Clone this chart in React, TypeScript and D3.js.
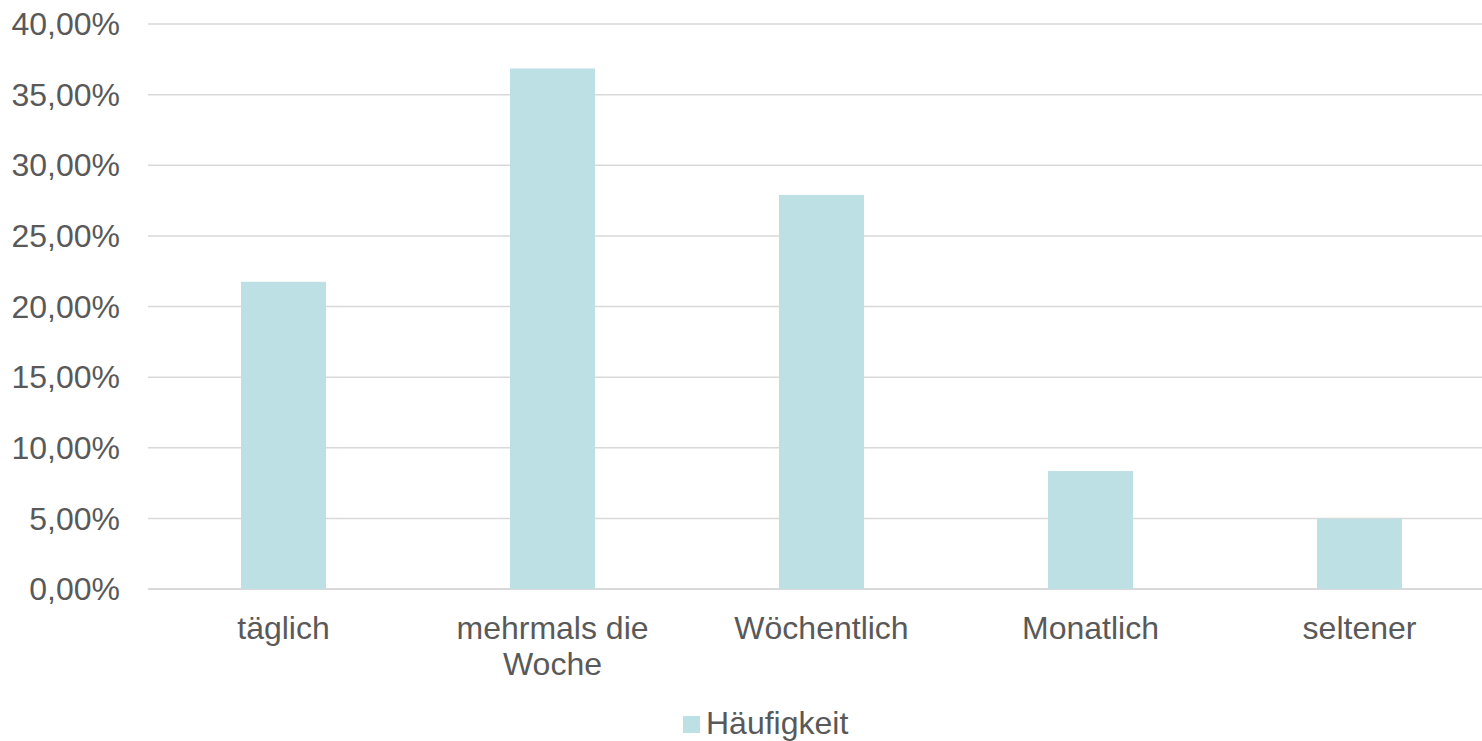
import React from "react";
import * as d3 from "d3";

const categories = ["täglich", "mehrmals die Woche", "Wöchentlich", "Monatlich", "seltener"];
const categoryLines = [["täglich"], ["mehrmals die", "Woche"], ["Wöchentlich"], ["Monatlich"], ["seltener"]];
const values = [21.75, 36.85, 27.9, 8.35, 4.97];
const yTicks = [0, 5, 10, 15, 20, 25, 30, 35, 40];
const seriesName = "Häufigkeit";

const W = 1482;
const H = 741;

export default function App() {
  const x = d3
    .scaleBand<string>()
    .domain(categories)
    .range([149, 1494])
    .paddingInner(0.684)
    .paddingOuter(0.342);
  const y = d3.scaleLinear().domain([0, 40]).range([589, 24]);
  const fmt = (v: number) => v.toFixed(2).replace(".", ",") + "%";
  const font = "'Liberation Sans', Arial, sans-serif";
  const textColor = "#595959";
  const fs = 32;

  return (
    <svg
      width={W}
      height={H}
      style={{ position: "absolute", left: 0, top: 0, background: "#fff" }}
      fontFamily={font}
    >
      {yTicks.map((t) => (
        <g key={t}>
          <line
            x1={148}
            x2={W}
            y1={y(t)}
            y2={y(t)}
            stroke="#D9D9D9"
            strokeWidth={t === 0 ? 2 : 1.5}
          />
          <text
            x={120}
            y={y(t)}
            dy="0.35em"
            textAnchor="end"
            fontSize={fs}
            fill={textColor}
          >
            {fmt(t)}
          </text>
        </g>
      ))}
      {categories.map((c, i) => (
        <rect
          key={c}
          x={x(c)}
          y={y(values[i])}
          width={x.bandwidth()}
          height={y(0) - y(values[i])}
          fill="#BCE0E3"
        />
      ))}
      {categories.map((c, i) => (
        <text
          key={c}
          x={(x(c) as number) + x.bandwidth() / 2}
          y={639}
          textAnchor="middle"
          fontSize={fs}
          fill={textColor}
        >
          {categoryLines[i].map((l, j) => (
            <tspan key={j} x={(x(c) as number) + x.bandwidth() / 2} dy={j === 0 ? 0 : 36}>
              {l}
            </tspan>
          ))}
        </text>
      ))}
      <rect x={683} y={716} width={17} height={17} fill="#BCE0E3" />
      <text x={706} y={734} fontSize={fs} fill={textColor}>
        {seriesName}
      </text>
    </svg>
  );
}
